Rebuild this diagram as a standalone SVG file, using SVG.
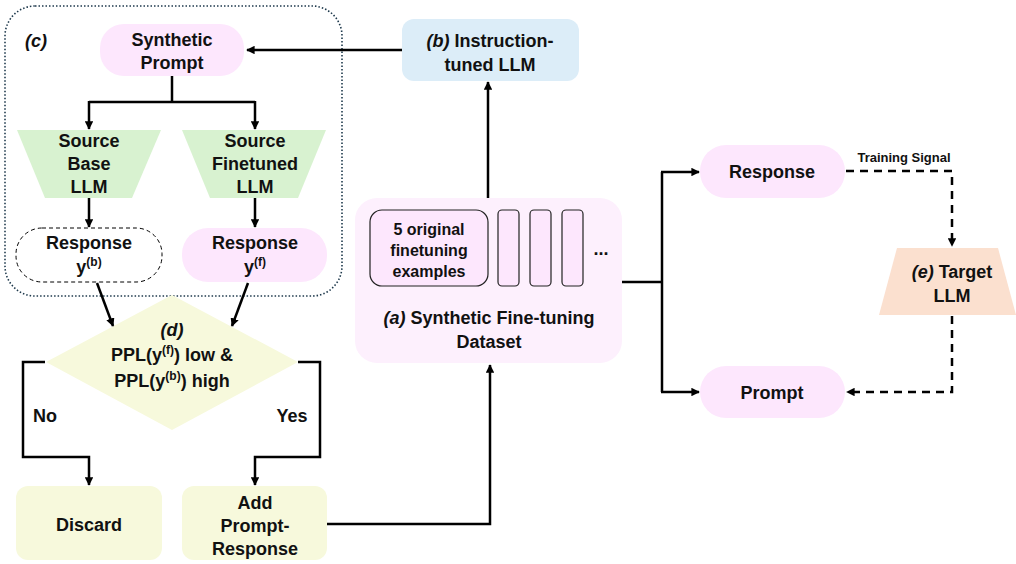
<svg xmlns="http://www.w3.org/2000/svg" width="1016" height="564" viewBox="0 0 1016 564">
  <defs>
    <marker id="arrow" viewBox="0 0 10 10" refX="9" refY="5" markerWidth="3.4" markerHeight="3.4" orient="auto" markerUnits="strokeWidth">
      <path d="M0,0 L10,5 L0,10 z" fill="#000"/>
    </marker>
    <style>
      text { font-family: "Liberation Sans", Arial, sans-serif; font-weight: bold; font-size: 18px; fill: #111; text-anchor: middle; }
      .small { font-size: 13px; }
      .sup { font-size: 12px; }
      .pink { fill: #fde7fd; }
      .pinklight { fill: #fdf0fd; }
      .green { fill: #d8f2d0; }
      .yellow { fill: #f7f9dc; }
      .blue { fill: #dcedf8; }
      .peach { fill: #fbe0cf; }
      .conn { fill: none; stroke: #000; stroke-width: 2.5; }
      .dash { stroke-dasharray: 8 6; }
    </style>
  </defs>

  <rect width="1016" height="564" fill="#fff"/>

  <!-- group (c) container -->
  <g id="group-c">
    <rect x="5" y="6" width="337" height="290" rx="30" fill="none" stroke="#1f3a4d" stroke-width="1.6" stroke-dasharray="1.5 2"/>
    <text x="36" y="47" font-style="italic">(c)</text>
  </g>

  <g id="synthetic-prompt">
    <rect x="100" y="24" width="144" height="52" rx="24" class="pink"/>
    <text x="172" y="46">Synthetic</text>
    <text x="172" y="69">Prompt</text>
  </g>

  <g id="source-base">
    <polygon points="17,130 161,130 132,198 45,198" class="green"/>
    <text x="89" y="147">Source</text>
    <text x="89" y="170">Base</text>
    <text x="89" y="193">LLM</text>
  </g>

  <g id="source-finetuned">
    <polygon points="182,130 326,130 298,198 210,198" class="green"/>
    <text x="255" y="147">Source</text>
    <text x="255" y="170">Finetuned</text>
    <text x="255" y="193">LLM</text>
  </g>

  <g id="response-b">
    <rect x="16" y="228" width="146" height="54" rx="26" fill="#fff" stroke="#000" stroke-width="1" stroke-dasharray="4 3"/>
    <text x="89" y="249">Response</text>
    <text x="89" y="273">y<tspan class="sup" dy="-7">(b)</tspan></text>
  </g>

  <g id="response-f">
    <rect x="182" y="228" width="145" height="54" rx="26" class="pink"/>
    <text x="255" y="249">Response</text>
    <text x="255" y="273">y<tspan class="sup" dy="-7">(f)</tspan></text>
  </g>

  <g id="decision-d">
    <polygon points="172,295 298,362 172,430 46,362" class="yellow"/>
    <text x="172" y="336" font-style="italic">(d)</text>
    <text x="172" y="361">PPL(y<tspan class="sup" dy="-7">(f)</tspan><tspan dy="7">) low &amp;</tspan></text>
    <text x="172" y="387">PPL(y<tspan class="sup" dy="-7">(b)</tspan><tspan dy="7">) high</tspan></text>
  </g>

  <g id="discard">
    <rect x="16" y="486" width="146" height="74" rx="12" class="yellow"/>
    <text x="89" y="531">Discard</text>
  </g>

  <g id="add-prompt-response">
    <rect x="182" y="486" width="145" height="74" rx="12" class="yellow"/>
    <text x="255" y="509">Add</text>
    <text x="255" y="532">Prompt-</text>
    <text x="255" y="555">Response</text>
  </g>

  <g id="dataset-a">
    <rect x="355" y="198" width="267" height="165" rx="22" class="pinklight"/>
    <rect x="370" y="210" width="118" height="76" rx="12" class="pink" stroke="#222" stroke-width="1.2"/>
    <text x="429" y="235" style="font-size:16px">5 original</text>
    <text x="429" y="256" style="font-size:16px">finetuning</text>
    <text x="429" y="277" style="font-size:16px">examples</text>
    <rect x="498" y="210" width="21" height="76" rx="4" class="pink" stroke="#222" stroke-width="1.2"/>
    <rect x="530" y="210" width="21" height="76" rx="4" class="pink" stroke="#222" stroke-width="1.2"/>
    <rect x="562" y="210" width="21" height="76" rx="4" class="pink" stroke="#222" stroke-width="1.2"/>
    <text x="601" y="255">...</text>
    <text x="489" y="324"><tspan font-style="italic">(a)</tspan> Synthetic Fine-tuning</text>
    <text x="489" y="348">Dataset</text>
  </g>

  <g id="instruction-llm-b">
    <rect x="402" y="19" width="177" height="62" rx="12" class="blue"/>
    <text x="490" y="47"><tspan font-style="italic">(b)</tspan> Instruction-</text>
    <text x="490" y="71">tuned LLM</text>
  </g>

  <g id="response">
    <rect x="700" y="145" width="145" height="53" rx="26" class="pink"/>
    <text x="772" y="178">Response</text>
  </g>

  <g id="prompt">
    <rect x="700" y="366" width="145" height="52" rx="26" class="pink"/>
    <text x="772" y="399">Prompt</text>
  </g>

  <g id="target-llm-e">
    <polygon points="897,248 998,248 1016,315 879,315" class="peach"/>
    <text x="952" y="278"><tspan font-style="italic">(e)</tspan> Target</text>
    <text x="952" y="302">LLM</text>
  </g>

  <g id="connectors">
    <!-- (b) to synthetic prompt -->
    <path class="conn" d="M402,50 H247" marker-end="url(#arrow)"/>
    <!-- synthetic prompt fan-out -->
    <path class="conn" d="M172,76 V102"/>
    <path class="conn" d="M89,102 H255"/>
    <path class="conn" d="M89,101 V129" marker-end="url(#arrow)"/>
    <path class="conn" d="M255,101 V129" marker-end="url(#arrow)"/>
    <!-- LLMs to responses -->
    <path class="conn" d="M89,198 V227" marker-end="url(#arrow)"/>
    <path class="conn" d="M255,198 V227" marker-end="url(#arrow)"/>
    <!-- responses to decision -->
    <path class="conn" d="M97,283 L113,326" marker-end="url(#arrow)"/>
    <path class="conn" d="M248,283 L232,326" marker-end="url(#arrow)"/>
    <!-- No branch -->
    <path class="conn" d="M45,362 H23 V457 H89 V485" marker-end="url(#arrow)"/>
    <text x="45" y="422">No</text>
    <!-- Yes branch -->
    <path class="conn" d="M298,362 H320 V457 H255 V485" marker-end="url(#arrow)"/>
    <text x="292" y="422">Yes</text>
    <!-- add to dataset -->
    <path class="conn" d="M327,524 H490 V365" marker-end="url(#arrow)"/>
    <!-- dataset to (b) -->
    <path class="conn" d="M488,198 V82" marker-end="url(#arrow)"/>
    <!-- dataset to response / prompt -->
    <path class="conn" d="M622,282 H662"/>
    <path class="conn" d="M662,172 V392"/>
    <path class="conn" d="M661,172 H699" marker-end="url(#arrow)"/>
    <path class="conn" d="M661,392 H699" marker-end="url(#arrow)"/>
    <!-- training signal -->
    <path class="conn dash" d="M846,171 H952 V246" marker-end="url(#arrow)"/>
    <text x="904" y="162" class="small">Training Signal</text>
    <!-- target back to prompt -->
    <path class="conn dash" d="M952,316 V392 H847" marker-end="url(#arrow)"/>
  </g>
</svg>
